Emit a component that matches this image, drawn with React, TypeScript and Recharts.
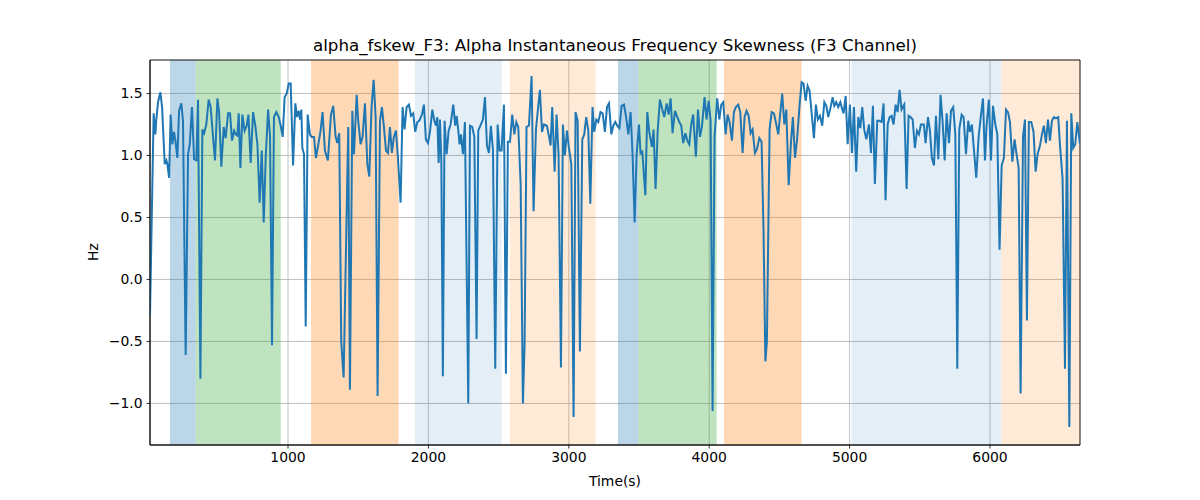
import React from "react";
import {
  LineChart,
  Line,
  XAxis,
  YAxis,
  CartesianGrid,
  ReferenceArea,
} from "recharts";

// [time (s), skewness (Hz)]
const samples: [number, number][] = [
  [17, -0.28], [43, 1.34], [55, 1.17], [62, 1.29], [74, 1.43], [91, 1.51], [103, 1.39], [122, 0.93],
  [134, 0.96], [141, 0.93], [153, 0.82], [164, 1.33], [176, 1.09], [188, 1.19], [198, 1.12], [212, 0.98],
  [224, 1.36], [240, 1.42], [252, 1.28], [271, -0.61], [288, 1.01], [300, 1.09], [316, 1.39], [331, 0.97],
  [347, 0.96], [359, 1.45], [376, -0.8], [390, 1.21], [402, 1.18], [418, 1.25], [435, 1.45], [449, 1.39],
  [466, 1.15], [480, 0.96], [497, 1.46], [509, 1.35], [525, 0.91], [542, 1.23], [556, 1.14], [573, 1.34],
  [587, 1.34], [601, 1.12], [616, 1.2], [627, 1.17], [639, 1.16], [649, 1.34], [661, 0.9], [675, 1.33],
  [691, 1.2], [706, 1.24], [718, 1.33], [734, 0.94], [751, 1.35], [767, 1.24], [782, 1.09], [798, 0.62],
  [813, 1.04], [827, 0.46], [841, 0.98], [858, 1.37], [872, 1.15], [886, -0.53], [900, 1.31], [917, 1.35],
  [934, 1.31], [948, 1.24], [962, 1.15], [976, 1.47], [991, 1.5], [1005, 1.58], [1019, 1.58], [1036, 0.92],
  [1052, 1.42], [1064, 1.31], [1076, 1.36], [1086, 1.29], [1095, 1.37], [1102, 1.06], [1114, 1.01], [1126, -0.38],
  [1140, 1.33], [1156, 1.17], [1168, 1.15], [1185, 1.15], [1199, 0.98], [1216, 1.09], [1232, 1.2], [1246, 1.35],
  [1263, 1.04], [1284, 0.96], [1306, 1.33], [1322, 1.4], [1339, 1.15], [1351, 1.1], [1365, 1.18], [1379, -0.5],
  [1396, -0.79], [1429, 1.23], [1441, -0.89], [1458, 1.36], [1470, 1.01], [1489, 1.49], [1500, 1.28], [1517, 1.09],
  [1531, 1.15], [1548, 1.42], [1565, 0.93], [1579, 0.83], [1595, 1.39], [1610, 1.61], [1624, 1.31], [1638, -0.94],
  [1655, 1.28], [1669, 1.39], [1683, 1.23], [1698, 1.04], [1712, 1.02], [1726, 1.23], [1740, 1.02], [1754, 1.15],
  [1769, 1.2], [1783, 0.98], [1802, 0.62], [1816, 1.39], [1830, 1.21], [1845, 1.39], [1861, 1.41], [1876, 1.32],
  [1892, 1.34], [1906, 1.19], [1921, 1.27], [1935, 1.28], [1954, 1.33], [1968, 1.41], [1982, 1.13], [1997, 1.1],
  [2011, 1.19], [2028, 1.37], [2042, 1.28], [2054, 1.24], [2063, 1.31], [2073, 0.94], [2082, 1.29], [2092, 0.96],
  [2103, -0.78], [2115, 1.28], [2130, 1.01], [2144, 1.2], [2158, 1.25], [2177, 1.41], [2191, 1.24], [2201, 1.32],
  [2213, 1.2], [2222, 1.09], [2232, 1.17], [2246, 1.01], [2260, 1.27], [2284, -1.0], [2296, 1.24], [2312, 1.23],
  [2327, 1.15], [2343, -0.48], [2355, 1.2], [2374, 1.25], [2388, 1.29], [2403, 1.47], [2417, 1.08], [2431, 1.02],
  [2445, 1.24], [2460, 1.04], [2476, -0.72], [2493, 1.25], [2507, 1.04], [2521, 1.04], [2538, 1.41], [2552, -0.76],
  [2566, 1.11], [2581, 1.11], [2597, 1.33], [2612, 1.17], [2626, 1.27], [2640, 1.23], [2657, 0.77], [2673, -1.0],
  [2685, -0.52], [2699, 1.23], [2716, 1.24], [2735, 1.64], [2749, 0.55], [2766, 1.21], [2794, 1.53], [2809, 1.19],
  [2823, 1.25], [2844, 1.24], [2858, 1.16], [2870, 1.08], [2882, 1.39], [2899, 0.87], [2913, 1.33], [2927, 1.01],
  [2944, -0.71], [2958, 1.25], [2972, 1.0], [2987, 1.2], [3001, 1.06], [3018, 0.93], [3034, -1.11], [3048, 1.35],
  [3063, 1.28], [3079, -0.58], [3096, 1.13], [3110, 1.17], [3124, 1.31], [3139, 1.2], [3153, 0.61], [3169, 1.39],
  [3181, 1.19], [3196, 1.29], [3210, 1.27], [3226, 1.35], [3241, 1.34], [3257, 1.19], [3272, 1.39], [3286, 1.42],
  [3303, 1.17], [3317, 1.24], [3331, 1.27], [3345, 1.24], [3360, 1.22], [3376, 1.4], [3393, 1.41], [3407, 1.32],
  [3424, 1.17], [3440, 1.35], [3454, 1.01], [3469, 0.46], [3483, 1.01], [3500, 1.25], [3511, 1.01], [3523, 1.04],
  [3545, 0.68], [3559, 1.35], [3573, 1.19], [3592, 1.07], [3604, 1.21], [3618, 0.73], [3633, 1.2], [3649, 1.45],
  [3666, 1.37], [3680, 1.31], [3697, 1.42], [3711, 1.33], [3725, 1.46], [3739, 1.18], [3756, 1.36], [3773, 1.31],
  [3787, 1.27], [3801, 1.24], [3815, 1.1], [3830, 1.18], [3844, 1.12], [3858, 1.09], [3872, 1.25], [3886, 1.33],
  [3905, 0.99], [3920, 1.37], [3934, 1.15], [3948, 1.23], [3967, 1.47], [3981, 1.29], [3996, 1.44], [4010, 1.28],
  [4024, -1.06], [4038, 1.15], [4057, 1.46], [4072, 1.29], [4086, 1.41], [4100, 1.43], [4117, 1.17], [4131, 1.33],
  [4145, 1.27], [4162, 1.12], [4176, 1.35], [4190, 1.39], [4207, 1.41], [4221, 1.35], [4238, 1.02], [4252, 1.31],
  [4266, 1.36], [4281, 1.32], [4295, 1.18], [4309, 1.21], [4326, 1.02], [4340, 1.05], [4357, 1.14], [4373, 1.11],
  [4387, 0.39], [4400, -0.66], [4411, -0.5], [4430, 1.21], [4445, 1.35], [4461, 1.34], [4478, 1.25], [4492, 1.17],
  [4506, 1.34], [4520, 1.5], [4535, 1.25], [4549, 1.37], [4566, 0.76], [4582, 1.1], [4596, 1.31], [4611, 0.98],
  [4625, 1.12], [4644, 1.41], [4658, 1.59], [4672, 1.58], [4687, 1.44], [4701, 1.56], [4715, 1.52], [4729, 1.35],
  [4746, 1.14], [4760, 1.41], [4774, 1.29], [4789, 1.32], [4805, 1.24], [4820, 1.43], [4834, 1.4], [4848, 1.31],
  [4865, 1.39], [4879, 1.47], [4891, 1.4], [4905, 1.43], [4919, 1.39], [4934, 1.43], [4948, 1.37], [4957, 1.34],
  [4972, 1.48], [4986, 1.09], [5002, 1.41], [5017, 1.02], [5031, 1.39], [5047, 0.87], [5062, 1.31], [5076, 1.22],
  [5090, 1.39], [5104, 1.21], [5119, 1.13], [5138, 1.25], [5152, 1.02], [5166, 1.4], [5180, 0.77], [5197, 1.28],
  [5211, 1.28], [5228, 1.27], [5242, 1.42], [5256, 0.64], [5271, 1.25], [5285, 1.31], [5299, 1.32], [5313, 1.25],
  [5328, 1.41], [5342, 1.35], [5356, 1.53], [5370, 1.37], [5389, 1.41], [5406, 0.73], [5420, 1.32], [5434, 1.31],
  [5449, 1.29], [5465, 1.06], [5480, 1.2], [5494, 1.17], [5508, 1.25], [5529, 1.25], [5541, 1.1], [5558, 1.31],
  [5572, 1.2], [5586, 0.98], [5601, 0.92], [5615, 1.32], [5632, 0.97], [5648, 1.49], [5662, 1.28], [5677, 0.96],
  [5691, 1.34], [5708, 1.1], [5722, 1.36], [5738, 1.39], [5753, 1.17], [5767, -0.72], [5781, 1.21], [5798, 1.33],
  [5812, 1.31], [5829, 1.01], [5845, 1.28], [5857, 1.19], [5871, 1.25], [5886, 1.04], [5902, 0.82], [5919, 1.15],
  [5935, 1.32], [5950, 1.46], [5964, 0.96], [5976, 1.25], [5992, 1.45], [6007, 0.96], [6021, 1.4], [6038, 1.25],
  [6052, 1.17], [6068, 0.24], [6083, 0.92], [6099, 0.98], [6114, 1.37], [6128, 1.35], [6142, 1.27], [6159, 0.95],
  [6175, 1.13], [6189, 1.01], [6204, 0.9], [6218, -0.92], [6235, 1.15], [6249, 1.29], [6263, -0.33], [6277, 1.27],
  [6294, 1.27], [6310, 1.19], [6325, 0.87], [6339, 1.01], [6356, 1.08], [6370, 1.17], [6384, 1.24], [6398, 1.1],
  [6413, 1.29], [6427, 1.12], [6441, 1.28], [6455, 1.31], [6470, 1.3], [6486, 1.31], [6498, 1.09], [6517, 0.81],
  [6534, -0.72], [6548, 1.28], [6565, -1.19], [6579, 1.34], [6593, 1.06], [6607, 1.09], [6622, 1.27], [6641, 1.09],
];

// shaded segments
const spanStarts = [159, 342, 1164, 1904, 2581, 3350, 3495, 4105, 5015, 6080];
const spanEnds = [342, 948, 1788, 2522, 3191, 3495, 4053, 4658, 6080, 6641];
const spanKinds = ["blue", "green", "orange", "paleBlue", "paleOrange", "blue", "green", "orange", "paleBlue", "paleOrange"];

const xTicks = [1000, 2000, 3000, 4000, 5000, 6000];
const yTicks = [-1.0, -0.5, 0.0, 0.5, 1.0, 1.5];
const X_MIN = 17;
const X_MAX = 6641;
const Y_MIN = -1.335;
const Y_MAX = 1.77;

const spanStyle: Record<string, { color: string; opacity: number }> = {
  blue: { color: "#1f77b4", opacity: 0.3 },
  green: { color: "#2ca02c", opacity: 0.3 },
  orange: { color: "#ff7f0e", opacity: 0.3 },
  paleBlue: { color: "#1f77b4", opacity: 0.12 },
  paleOrange: { color: "#ff7f0e", opacity: 0.16 },
};

const data = samples.map(([t, v]) => ({ t, v }));

const font = "'DejaVu Sans', sans-serif";
const tickStyle = { fill: "#000", fontSize: 13.9, fontFamily: font };

export default function App() {
  return (
    <div style={{ position: "absolute", left: 0, top: 0, width: 1200, height: 500, background: "#fff", fontFamily: font }}>
      <div style={{ position: "absolute", left: 150, width: 930, top: 35, lineHeight: "20px", fontSize: 16.7, textAlign: "center" }}>
        alpha_fskew_F3: Alpha Instantaneous Frequency Skewness (F3 Channel)
      </div>
      <div style={{ position: "absolute", left: 150, width: 930, top: 472, lineHeight: "18px", fontSize: 13.9, textAlign: "center" }}>
        Time(s)
      </div>
      <div
        style={{
          position: "absolute",
          left: 93 - 40,
          top: 252 - 9,
          width: 80,
          lineHeight: "18px",
          fontSize: 13.9,
          textAlign: "center",
          transform: "rotate(-90deg)",
        }}
      >
        Hz
      </div>
      <LineChart width={1200} height={500} data={data} margin={{ top: 60, right: 120, bottom: 25, left: 90 }}>
        {spanStarts.map((s, i) => (
          <ReferenceArea
            key={i}
            x1={s}
            x2={spanEnds[i]}
            fill={spanStyle[spanKinds[i]].color}
            fillOpacity={spanStyle[spanKinds[i]].opacity}
            stroke="none"
            ifOverflow="hidden"
          />
        ))}
        <CartesianGrid stroke="#b0b0b0" strokeWidth={0.8} />
        <XAxis
          dataKey="t"
          type="number"
          domain={[X_MIN, X_MAX]}
          allowDataOverflow
          ticks={xTicks}
          height={30}
          tick={tickStyle}
          tickSize={3.5}
          tickMargin={4}
          axisLine={{ stroke: "#000", strokeWidth: 0.8 }}
          tickLine={{ stroke: "#000", strokeWidth: 0.8 }}
        />
        <YAxis
          type="number"
          domain={[Y_MIN, Y_MAX]}
          allowDataOverflow
          ticks={yTicks}
          width={60}
          tick={tickStyle}
          tickSize={3.5}
          tickMargin={4}
          tickFormatter={(v: number) => v.toFixed(1).replace("-", "\u2212")}
          axisLine={{ stroke: "#000", strokeWidth: 0.8 }}
          tickLine={{ stroke: "#000", strokeWidth: 0.8 }}
        />
        <Line
          dataKey="v"
          type="linear"
          stroke="#1f77b4"
          strokeWidth={2}
          dot={false}
          activeDot={false}
          isAnimationActive={false}
        />
        <ReferenceArea x1={X_MIN} x2={X_MAX} y1={Y_MIN} y2={Y_MAX} fill="none" stroke="#000" strokeWidth={0.8} />
      </LineChart>
    </div>
  );
}
